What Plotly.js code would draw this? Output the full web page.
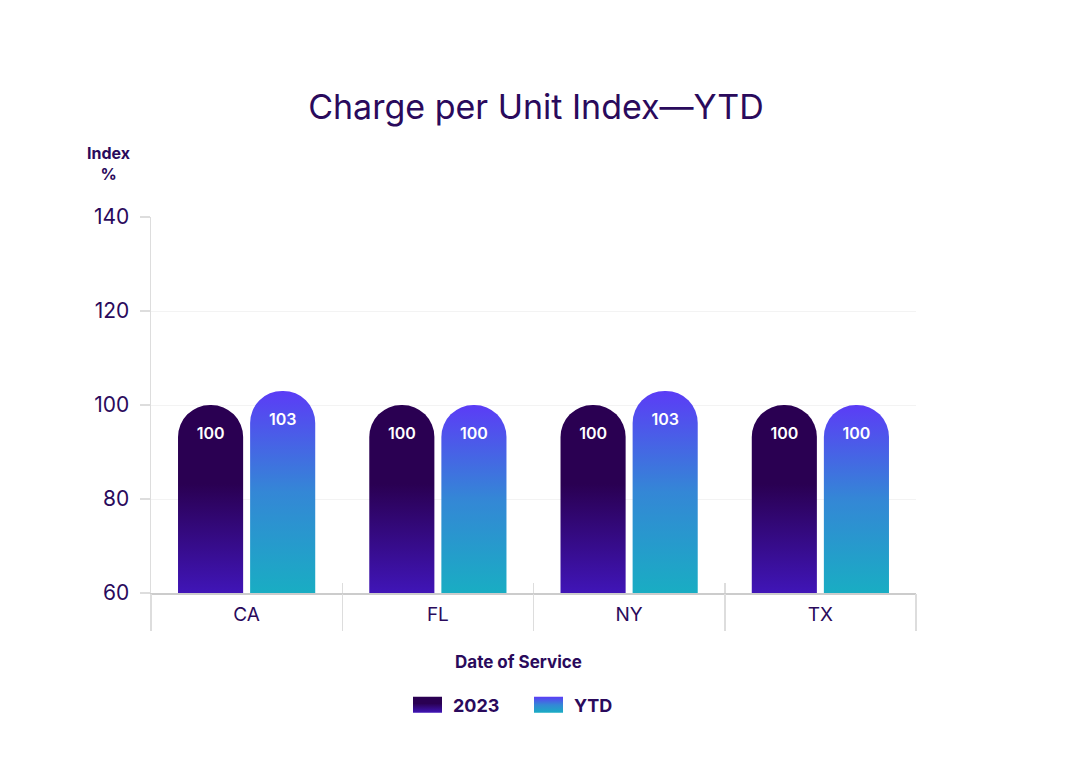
<!DOCTYPE html>
<html>
<head>
<meta charset="utf-8">
<script src="https://cdn.plot.ly/plotly-3.0.1.min.js"></script>
<style>
html,body{margin:0;padding:0;background:#fff;}
#chart{width:1072px;height:757px;}
</style>
</head>
<body>
<div id="chart"></div>
<script>
const categories = ["CA", "FL", "NY", "TX"];
const values2023 = [100, 100, 100, 100];
const valuesYTD = [103, 100, 103, 100];
const seriesNames = ["2023", "YTD"];
const yTickVals = [60, 80, 100, 120, 140];

const ink = "#2a0a5c";
const font = "Inter, 'Open Sans', sans-serif";

const boundaries = categories.map((c, i) => i - 0.5).concat([categories.length - 0.5]);

const traces = [
  {
    type: "bar", name: seriesNames[0], x: categories, y: values2023,
    text: values2023.map(String), textposition: "inside", insidetextanchor: "end",
    textfont: {color: "#ffffff", size: 16, family: font, weight: 600},
    marker: {color: "#2a0052", cornerradius: "50%", line: {width: 0}},
    hoverinfo: "skip"
  },
  {
    type: "bar", name: seriesNames[1], x: categories, y: valuesYTD,
    text: valuesYTD.map(String), textposition: "inside", insidetextanchor: "end",
    textfont: {color: "#ffffff", size: 16, family: font, weight: 600},
    marker: {color: "#4a5ee8", cornerradius: "50%", line: {width: 0}},
    hoverinfo: "skip"
  },
  {type: "scatter", x: [], y: [], xaxis: "x2", yaxis: "y", showlegend: false, hoverinfo: "skip"},
  {type: "scatter", x: [], y: [], xaxis: "x3", yaxis: "y", showlegend: false, hoverinfo: "skip"}
];

const layout = {
  width: 1072, height: 757,
  margin: {l: 151, r: 156, t: 217, b: 164},
  paper_bgcolor: "#ffffff", plot_bgcolor: "#ffffff",
  font: {family: font, color: ink},
  title: {
    text: "Charge per Unit Index—YTD",
    font: {size: 34, color: ink, family: font, weight: 400},
    x: 0.5, xanchor: "center", xref: "container",
    y: 1 - 107 / 757, yanchor: "middle", yref: "container"
  },
  barmode: "group", bargap: 0.246, bargroupgap: 0.097,
  showlegend: true,
  legend: {
    orientation: "h", x: (403 - 151) / 765, xanchor: "left", y: -0.298, yanchor: "middle",
    font: {size: 18, color: ink, family: font, weight: 700},
    itemwidth: 40, traceorder: "normal",
    entrywidth: 66, entrywidthmode: "pixels"
  },
  xaxis: {
    type: "category", categoryarray: categories, range: [-0.5, 3.5],
    showgrid: false, zeroline: false, ticks: "",
    showline: true, linecolor: "#cccccc", linewidth: 2,
    tickfont: {size: 19, color: ink, family: font},
    ticklabelstandoff: 3
  },
  xaxis2: {
    overlaying: "x", anchor: "y", range: [-0.5, 3.5], type: "linear",
    tickmode: "array", tickvals: boundaries, showticklabels: false,
    ticks: "outside", ticklen: 37, tickcolor: "#dddddd", tickwidth: 1.5,
    showgrid: false, zeroline: false, showline: false
  },
  xaxis3: {
    overlaying: "x", anchor: "y", range: [-0.5, 3.5], type: "linear",
    tickmode: "array", tickvals: boundaries, showticklabels: false,
    ticks: "inside", ticklen: 10, tickcolor: "#dddddd", tickwidth: 1.5,
    showgrid: false, zeroline: false, showline: false
  },
  yaxis: {
    range: [60, 140], tickmode: "array", tickvals: yTickVals,
    showgrid: true, gridcolor: "#f3f3f3", gridwidth: 1, zeroline: false,
    showline: true, linecolor: "#dddddd", linewidth: 1.5,
    ticks: "outside", ticklen: 10, tickcolor: "#dddddd", tickwidth: 1.5,
    tickfont: {size: 21, color: ink, family: font},
    ticklabelstandoff: 6
  },
  annotations: [
    {text: "<b>Index</b><br><b>%</b>", xref: "paper", yref: "paper",
     x: (108 - 151) / 765, y: (593 - 163) / 376, xanchor: "center", yanchor: "middle",
     showarrow: false, font: {size: 16, color: ink, family: font}, align: "center"},
    {text: "<b>Date of Service</b>", xref: "paper", yref: "paper",
     x: (518 - 151) / 765, y: (593 - 662) / 376, xanchor: "center", yanchor: "middle",
     showarrow: false, font: {size: 17, color: ink, family: font}}
  ]
};

Plotly.newPlot("chart", traces, layout, {displayModeBar: false, staticPlot: true}).then(function (gd) {
  const svgNS = "http://www.w3.org/2000/svg";
  const svg = gd.querySelector(".main-svg");
  let defs = svg.querySelector("defs");
  if (!defs) { defs = document.createElementNS(svgNS, "defs"); svg.insertBefore(defs, svg.firstChild); }
  const stopsBySeries = [
    [["0", "#2a0052"], ["0.42", "#2a0052"], ["1", "#4015b7"]],
    [["0", "#5b3cf6"], ["0.5", "#3487d6"], ["1", "#19adc3"]]
  ];
  function grad(id, stops, user, y1, y2) {
    const g = document.createElementNS(svgNS, "linearGradient");
    g.setAttribute("id", id);
    if (user) {
      g.setAttribute("gradientUnits", "userSpaceOnUse");
      g.setAttribute("x1", "0"); g.setAttribute("x2", "0");
      g.setAttribute("y1", y1); g.setAttribute("y2", y2);
    } else {
      g.setAttribute("x1", "0"); g.setAttribute("y1", "0");
      g.setAttribute("x2", "0"); g.setAttribute("y2", "1");
    }
    stops.forEach(s => {
      const st = document.createElementNS(svgNS, "stop");
      st.setAttribute("offset", s[0]);
      st.setAttribute("stop-color", s[1]);
      g.appendChild(st);
    });
    defs.appendChild(g);
  }
  const ya = gd._fullLayout.yaxis;
  const seriesVals = [values2023, valuesYTD];
  const yBottom = ya.l2p(ya.range[0]);
  gd.querySelectorAll(".barlayer .trace.bars").forEach((t, i) => {
    t.querySelectorAll(".point").forEach((pt, j) => {
      const id = "g" + i + "_" + j;
      grad(id, stopsBySeries[i], true, ya.l2p(seriesVals[i][j]), yBottom);
      const p = pt.querySelector("path");
      if (p) p.style.fill = "url(#" + id + ")";
      const tx = pt.querySelector("text");
      if (tx) {
        const tr = tx.getAttribute("transform") || "";
        tx.setAttribute("transform", "translate(0,12) " + tr);
      }
    });
  });
  gd.querySelectorAll(".legend .traces").forEach((t, i) => {
    const id = "gl" + i;
    grad(id, stopsBySeries[i], false);
    t.querySelectorAll(".legendpoints path").forEach(p => {
      p.setAttribute("d", "M-15,-8H14V8H-15Z");
      p.style.fill = "url(#" + id + ")";
      p.style.stroke = "none";
    });
  });
});
</script>
</body>
</html>
